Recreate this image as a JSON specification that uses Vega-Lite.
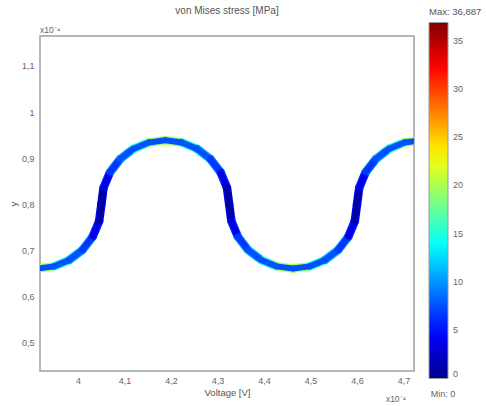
{
 "$schema": "https://vega.github.io/schema/vega-lite/v6.json",
 "width": 374, "height": 335,
 "autosize": {"type": "none"},
 "padding": {"left": 40, "top": 36, "right": 72, "bottom": 35},
 "background": "white",
 "config": {"view": {"stroke": "#a0a0a0", "strokeWidth": 1.5}, "font": "Liberation Sans"},
 "title": {"text": "von Mises stress [MPa]", "fontSize": 10, "fontWeight": "normal", "color": "#555", "offset": -9},
 "data": {"values": [
  {"x":3.9125,"y":0.661,"x2":3.9481,"y2":0.6657,"e":20,"c":7.5},
  {"x":3.9481,"y":0.6657,"x2":3.9813,"y2":0.6796,"e":15,"c":7.5},
  {"x":3.9813,"y":0.6796,"x2":4.0097,"y2":0.7017,"e":11,"c":7.5},
  {"x":4.0097,"y":0.7017,"x2":4.0316,"y2":0.7305,"e":9,"c":6.5},
  {"x":4.0316,"y":0.7305,"x2":4.0453,"y2":0.764,"e":6,"c":3.5},
  {"x":4.0453,"y":0.764,"x2":4.05,"y2":0.8,"e":4,"c":1},
  {"x":4.05,"y":0.8,"x2":4.0547,"y2":0.836,"e":4,"c":1},
  {"x":4.0547,"y":0.836,"x2":4.0684,"y2":0.8695,"e":6,"c":3.5},
  {"x":4.0684,"y":0.8695,"x2":4.0903,"y2":0.8983,"e":9,"c":6.5},
  {"x":4.0903,"y":0.8983,"x2":4.1187,"y2":0.9204,"e":11,"c":7.5},
  {"x":4.1187,"y":0.9204,"x2":4.1519,"y2":0.9343,"e":15,"c":7.5},
  {"x":4.1519,"y":0.9343,"x2":4.1875,"y2":0.939,"e":20,"c":7.5},
  {"x":4.1875,"y":0.939,"x2":4.2231,"y2":0.9343,"e":20,"c":7.5},
  {"x":4.2231,"y":0.9343,"x2":4.2563,"y2":0.9204,"e":15,"c":7.5},
  {"x":4.2563,"y":0.9204,"x2":4.2847,"y2":0.8983,"e":11,"c":7.5},
  {"x":4.2847,"y":0.8983,"x2":4.3066,"y2":0.8695,"e":9,"c":6.5},
  {"x":4.3066,"y":0.8695,"x2":4.3203,"y2":0.836,"e":6,"c":3.5},
  {"x":4.3203,"y":0.836,"x2":4.325,"y2":0.8,"e":4,"c":1},
  {"x":4.325,"y":0.8,"x2":4.3297,"y2":0.764,"e":4,"c":1},
  {"x":4.3297,"y":0.764,"x2":4.3434,"y2":0.7305,"e":6,"c":3.5},
  {"x":4.3434,"y":0.7305,"x2":4.3653,"y2":0.7017,"e":9,"c":6.5},
  {"x":4.3653,"y":0.7017,"x2":4.3937,"y2":0.6796,"e":11,"c":7.5},
  {"x":4.3937,"y":0.6796,"x2":4.4269,"y2":0.6657,"e":15,"c":7.5},
  {"x":4.4269,"y":0.6657,"x2":4.4625,"y2":0.661,"e":20,"c":7.5},
  {"x":4.4625,"y":0.661,"x2":4.4981,"y2":0.6657,"e":20,"c":7.5},
  {"x":4.4981,"y":0.6657,"x2":4.5313,"y2":0.6796,"e":15,"c":7.5},
  {"x":4.5313,"y":0.6796,"x2":4.5597,"y2":0.7017,"e":11,"c":7.5},
  {"x":4.5597,"y":0.7017,"x2":4.5816,"y2":0.7305,"e":9,"c":6.5},
  {"x":4.5816,"y":0.7305,"x2":4.5953,"y2":0.764,"e":6,"c":3.5},
  {"x":4.5953,"y":0.764,"x2":4.6,"y2":0.8,"e":4,"c":1},
  {"x":4.6,"y":0.8,"x2":4.6047,"y2":0.836,"e":4,"c":1},
  {"x":4.6047,"y":0.836,"x2":4.6184,"y2":0.8695,"e":6,"c":3.5},
  {"x":4.6184,"y":0.8695,"x2":4.6403,"y2":0.8983,"e":9,"c":6.5},
  {"x":4.6403,"y":0.8983,"x2":4.6687,"y2":0.9204,"e":11,"c":7.5},
  {"x":4.6687,"y":0.9204,"x2":4.7019,"y2":0.9343,"e":15,"c":7.5},
  {"x":4.7019,"y":0.9343,"x2":4.7375,"y2":0.939,"e":20,"c":7.5}
 ]},
 "layer": [
  {
   "mark": {"type": "rule", "strokeWidth": 8.5, "strokeCap": "round", "clip": true},
   "encoding": {
    "x": {"field": "x", "type": "quantitative",
          "scale": {"domain": [3.918, 4.7226], "nice": false, "zero": false},
          "axis": {"values": [4, 4.1, 4.2, 4.3, 4.4, 4.5, 4.6, 4.7], "labelExpr": "replace(format(datum.value, '.1~f'), '.', ',')",
                   "ticks": false, "domain": false, "grid": false, "title": "Voltage [V]",
                   "titleFontSize": 9.5, "titleFontWeight": "normal", "titleColor": "#555",
                   "labelFontSize": 9, "labelColor": "#666", "labelPadding": 5, "titlePadding": 2}},
    "y": {"field": "y", "type": "quantitative",
          "scale": {"domain": [0.439, 1.165], "nice": false, "zero": false},
          "axis": {"values": [0.5, 0.6, 0.7, 0.8, 0.9, 1, 1.1], "labelExpr": "replace(format(datum.value, '.1~f'), '.', ',')",
                   "ticks": false, "domain": false, "grid": false, "title": "y",
                   "titleFontSize": 9.5, "titleFontWeight": "normal", "titleColor": "#555",
                   "labelFontSize": 9, "labelColor": "#666", "labelPadding": 6, "titlePadding": 3}},
    "x2": {"field": "x2"},
    "y2": {"field": "y2"},
    "color": {"field": "e", "type": "quantitative",
              "scale": {"domain": [0, 4.611, 13.833, 23.054, 32.276, 36.887],
                        "range": ["#00008f", "#0000ff", "#00ffff", "#ffff00", "#ff0000", "#800000"],
                        "interpolate": "rgb"},
              "legend": {"title": "Max: 36,887", "orient": "none", "legendX": 389, "legendY": -29,
                         "direction": "vertical", "gradientLength": 356, "gradientThickness": 19,
                         "values": [0, 5, 10, 15, 20, 25, 30, 35],
                         "labelFontSize": 9, "labelColor": "#666", "labelOffset": 5,
                         "titleFontSize": 9.5, "titleFontWeight": "normal", "titleColor": "#555", "titlePadding": 6,
                         "gradientStrokeColor": "#999", "gradientStrokeWidth": 1, "padding": 0}}
   }
  },
  {
   "mark": {"type": "rule", "strokeWidth": 6, "strokeCap": "round", "clip": true},
   "encoding": {
    "x": {"field": "x", "type": "quantitative"},
    "y": {"field": "y", "type": "quantitative"},
    "x2": {"field": "x2"},
    "y2": {"field": "y2"},
    "color": {"field": "c", "type": "quantitative", "legend": null}
   }
  },
  {
   "data": {"values": [{}]},
   "mark": {"type": "text", "text": "x10⁻⁴", "align": "left", "baseline": "bottom", "fontSize": 8.5, "color": "#666", "dy": -1},
   "encoding": {"x": {"datum": 3.918}, "y": {"datum": 1.165}}
  },
  {
   "data": {"values": [{}]},
   "mark": {"type": "text", "text": "x10⁻⁴", "align": "center", "baseline": "middle", "fontSize": 8.5, "color": "#666"},
   "encoding": {"x": {"datum": 4.684}, "y": {"datum": 0.378}}
  },
  {
   "data": {"values": [{}]},
   "mark": {"type": "text", "text": "Min: 0", "align": "center", "baseline": "middle", "fontSize": 9, "color": "#666"},
   "encoding": {"x": {"datum": 4.785}, "y": {"datum": 0.389}}
  }
 ]
}
